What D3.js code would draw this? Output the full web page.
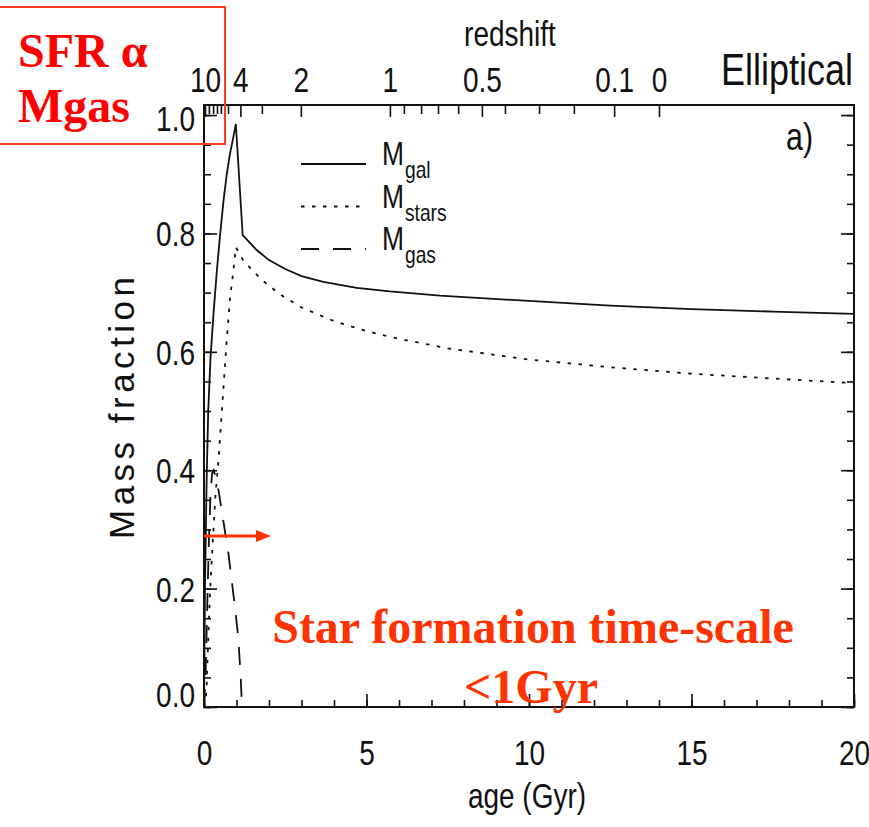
<!DOCTYPE html>
<html>
<head>
<meta charset="utf-8">
<script src="https://cdn.jsdelivr.net/npm/d3@7"></script>
<style>
  body { margin: 0; background: #fff; }
  svg { display: block; }
  .lbl { font-family: "Liberation Sans", Arial, sans-serif; fill: #111; }
  .red { font-family: "Liberation Serif", "Times New Roman", serif; font-weight: bold; }
</style>
</head>
<body>
<svg id="chart" width="869" height="827"></svg>
<script>
// Galaxy mass fraction versus age (Gyr)
const ageGal = [0, 0.03, 0.08, 0.13, 0.2, 0.3, 0.4, 0.5, 0.6, 0.7, 0.8, 0.9, 0.98,
                1.19, 1.4, 1.62, 2.0, 2.5, 3.0, 3.67, 4.7, 5.72, 7.26, 10, 12.5, 15, 17.5, 20];
const massGal = [0, 0.2, 0.38, 0.5, 0.59, 0.67, 0.74, 0.8, 0.855, 0.9, 0.935, 0.962, 0.985,
                 0.797, 0.785, 0.772, 0.755, 0.74, 0.728, 0.718, 0.708, 0.702, 0.695, 0.686, 0.678, 0.672, 0.668, 0.664];

const ageStars = [0, 0.05, 0.08, 0.1, 0.13, 0.16, 0.2, 0.25, 0.3, 0.35, 0.45, 0.55, 0.7, 0.8, 0.9, 0.98,
                  1.2, 1.42, 1.77, 2.34, 3.0, 4.0, 5.0, 6.0, 7.5, 10, 12.5, 15, 17.5, 20];
const massStars = [0, 0.01, 0.03, 0.068, 0.113, 0.16, 0.21, 0.26, 0.31, 0.355, 0.42, 0.5, 0.62, 0.69, 0.735, 0.777,
                   0.755, 0.742, 0.722, 0.697, 0.675, 0.652, 0.635, 0.622, 0.606, 0.587, 0.574, 0.563, 0.555, 0.547];

const ageGas = [0, 0.05, 0.1, 0.15, 0.2, 0.25, 0.3, 0.35, 0.45, 0.55, 0.65, 0.75, 0.85, 0.95, 1.05, 1.12, 1.17];
const massGas = [0, 0.06, 0.17, 0.28, 0.36, 0.395, 0.4, 0.39, 0.365, 0.33, 0.295, 0.26, 0.215, 0.17, 0.12, 0.06, 0];

// Axis ticks
const ageTicks = [0, 5, 10, 15, 20];
const massTicks = [0, 0.2, 0.4, 0.6, 0.8, 1.0];
// Redshift scale along the top: labelled redshifts and the ages they fall at
const zLabels = ["10", "4", "2", "1", "0.5", "0.1", "0"];
const zLabelAges = [0.03, 1.12, 2.98, 5.72, 8.55, 12.62, 14.0];
const zMinorAges = [0.15, 0.28, 0.40, 0.52, 0.74, 1.78, 6.15, 6.68, 7.2, 7.82, 9.26, 10.31, 11.38];

// Legend
const legendNames = ["gal", "stars", "gas"];
const legendDash = [null, "3.5,7.5", "18,14"];

const svg = d3.select("#chart");
const X0 = 204, X1 = 854, Y0 = 105, Y1 = 707;
const FS = 35;
const NARROW = 0.8;

// condense a text's glyphs horizontally (narrow sans look)
function squeeze(sel, f = NARROW) {
  sel.each(function () {
    const w = this.getComputedTextLength();
    d3.select(this).attr("textLength", w * f).attr("lengthAdjust", "spacingAndGlyphs");
  });
}

const x = d3.scaleLinear().domain([0, 20]).range([X0, X1]);
const y = d3.scaleLinear().domain([0, 1.017]).range([Y1, Y0]);

function styleAxis(g) {
  g.selectAll(".domain").remove();
  g.selectAll("line").attr("stroke", "#111").attr("stroke-width", 1.6);
  g.selectAll("text").attr("class", "lbl").attr("font-size", FS).attr("fill", "#111");
  squeeze(g.selectAll("text"));
}

// Bottom axis
svg.append("g").attr("transform", `translate(0,${Y1})`)
  .call(d3.axisBottom(x).tickValues(d3.range(0, 21, 1)).tickSize(-7).tickFormat(""))
  .call(styleAxis);
svg.append("g").attr("transform", `translate(0,${Y1})`)
  .call(d3.axisBottom(x).tickValues(ageTicks).tickSize(-13).tickPadding(33).tickFormat(d3.format("d")))
  .call(styleAxis);

// Left axis
svg.append("g").attr("transform", `translate(${X0},0)`)
  .call(d3.axisLeft(y).tickValues(d3.range(0, 21).map(i => i * 0.05)).tickSize(-7).tickFormat(""))
  .call(styleAxis);
const gLeft = svg.append("g").attr("transform", `translate(${X0},0)`)
  .call(d3.axisLeft(y).tickValues(massTicks).tickSize(-13).tickPadding(9).tickFormat(d3.format(".1f")))
  .call(styleAxis);
// keep end labels inside the frame height
gLeft.selectAll(".tick text").attr("dy", null).attr("dominant-baseline", "central")
  .attr("y", d => {
    const py = y(d);
    const c = Math.min(Math.max(py, Y0 + 13), Y1 - 13);
    return c - py;
  });

// Right axis (ticks only)
svg.append("g").attr("transform", `translate(${X1},0)`)
  .call(d3.axisRight(y).tickValues(d3.range(0, 21).map(i => i * 0.05)).tickSize(-7).tickFormat(""))
  .call(styleAxis);
svg.append("g").attr("transform", `translate(${X1},0)`)
  .call(d3.axisRight(y).tickValues(massTicks).tickSize(-13).tickFormat(""))
  .call(styleAxis);

// Top redshift axis
svg.append("g").attr("transform", `translate(0,${Y0})`)
  .call(d3.axisTop(x).tickValues(zMinorAges).tickSize(-9).tickFormat(""))
  .call(styleAxis);
svg.append("g").attr("transform", `translate(0,${Y0})`)
  .call(d3.axisTop(x).tickValues(zLabelAges).tickSize(-12).tickPadding(13).tickFormat((d, i) => zLabels[i]))
  .call(styleAxis);

// Frame
svg.append("rect").attr("x", X0).attr("y", Y0).attr("width", X1 - X0).attr("height", Y1 - Y0)
  .attr("fill", "none").attr("stroke", "#111").attr("stroke-width", 2);

// Curves
const line = d3.line().x(d => x(d[0])).y(d => y(d[1]));
const series = [
  { a: ageGal, m: massGal, dash: legendDash[0] },
  { a: ageStars, m: massStars, dash: legendDash[1] },
  { a: ageGas, m: massGas, dash: legendDash[2] }
];
series.forEach(s => {
  svg.append("path").datum(d3.zip(s.a, s.m)).attr("d", line)
    .attr("fill", "none").attr("stroke", "#111").attr("stroke-width", 1.8)
    .attr("stroke-dasharray", s.dash);
});

// Legend
legendNames.forEach((name, i) => {
  const ly = 164 + i * 42.5;
  svg.append("line").attr("x1", 301).attr("x2", 366).attr("y1", ly).attr("y2", ly)
    .attr("stroke", "#111").attr("stroke-width", 1.8).attr("stroke-dasharray", legendDash[i]);
  svg.append("text").attr("class", "lbl").attr("x", 382).attr("y", ly + 1).attr("font-size", 33)
    .text("M").call(squeeze);
  svg.append("text").attr("class", "lbl").attr("x", 405).attr("y", ly + 14).attr("font-size", 24)
    .text(name).call(squeeze);
});

// Titles and axis names
svg.append("text").attr("class", "lbl").attr("x", 510).attr("y", 46).attr("text-anchor", "middle")
  .attr("font-size", FS).text("redshift").call(squeeze);
svg.append("text").attr("class", "lbl").attr("x", 853).attr("y", 85).attr("text-anchor", "end")
  .attr("font-size", 45).text("Elliptical").call(squeeze);
svg.append("text").attr("class", "lbl").attr("x", 527).attr("y", 808).attr("text-anchor", "middle")
  .attr("font-size", FS).text("age (Gyr)").call(squeeze);
svg.append("text").attr("class", "lbl").attr("transform", "translate(134,408) rotate(-90)")
  .attr("text-anchor", "middle").attr("font-size", FS)
  .attr("textLength", 262).attr("lengthAdjust", "spacing").text("Mass fraction");
svg.append("text").attr("class", "lbl").attr("x", 786).attr("y", 150).attr("font-size", 38)
  .text("a)").call(squeeze);

// Annotations
svg.append("rect").attr("x", -3).attr("y", 7).attr("width", 228).attr("height", 137)
  .attr("fill", "none").attr("stroke", "#ff3b1f").attr("stroke-width", 2);
svg.append("text").attr("class", "red").attr("x", 18).attr("y", 67).attr("font-size", 48)
  .attr("fill", "#ff0000").text("SFR α");
svg.append("text").attr("class", "red").attr("x", 18).attr("y", 122).attr("font-size", 48)
  .attr("fill", "#ff0000").text("Mgas");

svg.append("text").attr("class", "red").attr("x", 533).attr("y", 643).attr("text-anchor", "middle")
  .attr("font-size", 48).attr("fill", "#ff3300").text("Star formation time-scale");
svg.append("text").attr("class", "red").attr("x", 531).attr("y", 703).attr("text-anchor", "middle")
  .attr("font-size", 48).attr("fill", "#ff3300").text("<1Gyr");

// Arrow
const ay = 536;
svg.append("line").attr("x1", X0).attr("x2", 256).attr("y1", ay).attr("y2", ay)
  .attr("stroke", "#ff3300").attr("stroke-width", 3);
svg.append("path").attr("d", `M256,${ay - 6}L271,${ay}L256,${ay + 6}Z`).attr("fill", "#ff3300");
</script>
</body>
</html>
